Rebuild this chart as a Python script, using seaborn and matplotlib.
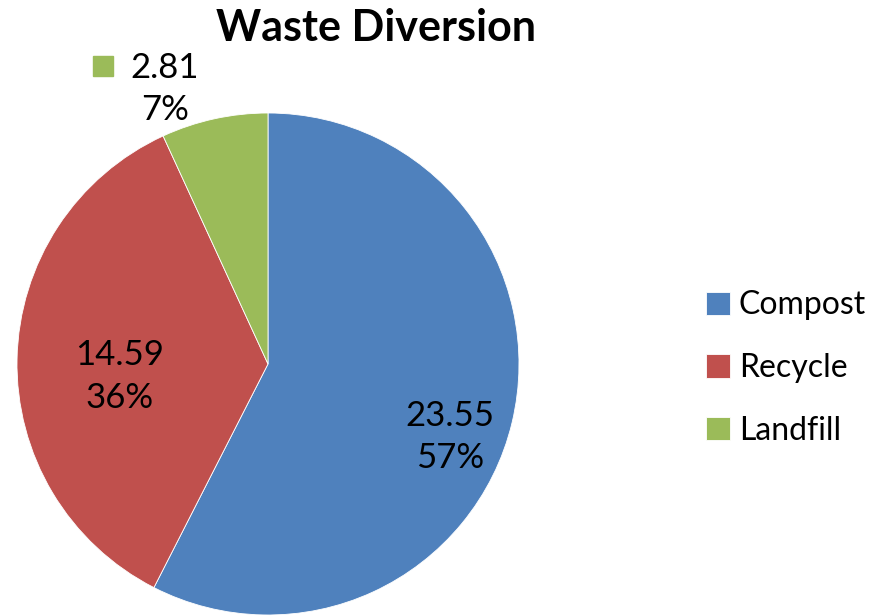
import matplotlib
matplotlib.use("Agg")
import matplotlib.pyplot as plt
import seaborn as sns

# Data
categories = ["Compost", "Recycle", "Landfill"]
amounts = [23.55, 14.59, 2.81]
percents = [57, 36, 7]
colors = ["#4F81BD", "#C0504D", "#9BBB59"]

sns.set_theme(style="white")
plt.rcParams["font.family"] = ["Lato", "DejaVu Sans"]
plt.rcParams["text.color"] = "black"

fig = plt.figure(figsize=(8.92, 6.16), dpi=100)
# pie centre ~ (268, 364) px, radius ~251 px
ax = fig.add_axes([17 / 892, 1 / 616, 502 / 892, 502 / 616])
wedges, _ = ax.pie(amounts, colors=colors, startangle=90, counterclock=False,
                   radius=1.0, wedgeprops=dict(edgecolor="white", linewidth=0.6))
for w in wedges:
    w.set_clip_on(False)
ax.set_xlim(-1, 1)
ax.set_ylim(-1, 1)
ax.set_aspect("equal")
ax.axis("off")

labels = [f"{a:.2f}\n{p}%" for a, p in zip(amounts, percents)]
label_pos = [(0.725, -0.29), (-0.59, -0.05), (-0.41, 1.095)]
for txt, (x, y) in zip(labels, label_pos):
    ax.text(x, y, txt, ha="center", va="center", fontsize=25,
            linespacing=1.4, clip_on=False)
# small legend key beside the outside landfill label
ax.plot([-0.657], [1.187], marker="s", markersize=15, color=colors[2],
        linestyle="none", clip_on=False)

fig.text(376 / 892, 1 - 28 / 616, "Waste Diversion", ha="center", va="center",
         fontsize=31, fontweight="bold")

fig.legend(wedges, categories, loc="center left",
           bbox_to_anchor=(677 / 892, 1 - 368 / 616), frameon=False,
           fontsize=23, handlelength=0.75, handleheight=0.75,
           handletextpad=0.28, labelspacing=1.02)

fig.savefig("out.png", dpi=100)
